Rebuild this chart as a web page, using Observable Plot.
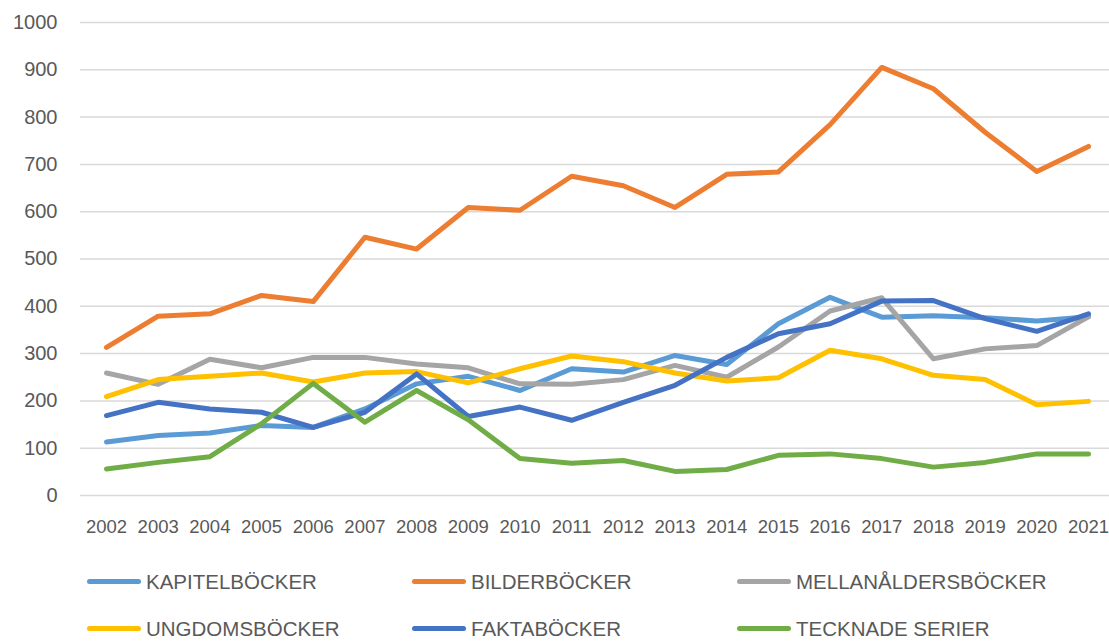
<!DOCTYPE html>
<html>
<head>
<meta charset="utf-8">
<script src="https://cdn.jsdelivr.net/npm/d3@7"></script>
<script src="https://cdn.jsdelivr.net/npm/@observablehq/plot@0.6"></script>
<style>
  html, body { margin: 0; padding: 0; background: #fff; }
  body { width: 1109px; height: 641px; overflow: hidden; font-family: "Liberation Sans", Arial, sans-serif; }
  #chart svg { display: block; }
  #legend { display: grid; grid-template-columns: 325px 325px 325px; row-gap: 0; margin-left: 87px; margin-top: 13px; }
  .item { display: flex; align-items: center; height: 47px; font-size: 20.5px; color: #595959; }
  .sw { width: 54px; height: 5px; border-radius: 3px; margin-right: 5px; }
</style>
</head>
<body>
<div id="chart"></div>
<div id="legend"></div>
<script>
const years = ["2002","2003","2004","2005","2006","2007","2008","2009","2010","2011","2012","2013","2014","2015","2016","2017","2018","2019","2020","2021"];
const seriesNames = ["KAPITELBÖCKER","BILDERBÖCKER","MELLANÅLDERSBÖCKER","UNGDOMSBÖCKER","FAKTABÖCKER","TECKNADE SERIER"];
const colors = ["#5B9BD5","#ED7D31","#A5A5A5","#FFC000","#4472C4","#70AD47"];
const kapitel   = [113,127,132,148,144,183,236,252,222,268,261,296,277,363,419,377,380,376,369,378];
const bilder    = [313,379,384,423,410,546,521,609,603,675,655,609,679,684,784,905,860,768,685,738];
const mellan    = [259,235,288,270,292,292,278,270,236,235,245,275,250,314,390,418,289,310,317,378];
const ungdom    = [209,245,252,259,240,259,262,238,268,295,283,259,242,249,307,289,254,245,192,199];
const fakta     = [169,197,183,176,144,176,257,167,187,159,197,233,292,342,363,411,412,374,347,384];
const tecknade  = [56,70,82,152,237,155,222,160,78,68,74,51,55,85,88,78,60,70,88,88];
const yTicks = [0,100,200,300,400,500,600,700,800,900,1000];

const allSeries = [kapitel, bilder, mellan, ungdom, fakta, tecknade];
const data = [];
allSeries.forEach((vals, i) => vals.forEach((v, j) => data.push({year: years[j], value: v, series: seriesNames[i]})));

const font = "'Liberation Sans', Arial, sans-serif";
const chart = Plot.plot({
  width: 1109,
  height: 545,
  marginTop: 22,
  marginBottom: 50,
  marginLeft: 80,
  marginRight: 0,
  style: {fontFamily: font, fontSize: "20px", color: "#595959", background: "#fff"},
  x: {type: "point", domain: years, range: [106, 1088], padding: 0, round: false, label: null},
  y: {domain: [0, 1000], ticks: yTicks, label: null},
  color: {domain: seriesNames, range: colors},
  marks: [
    Plot.ruleY(yTicks, {stroke: "#d9d9d9", strokeWidth: 1.5}),
    Plot.axisY({ticks: yTicks, tickFormat: d => String(d), tickSize: 0, tickPadding: 23, label: null, fill: "#595959", fontSize: 20}),
    Plot.axisX({tickSize: 0, tickPadding: 24, label: null, fill: "#595959", fontSize: 18.5}),
    Plot.line(data, {x: "year", y: "value", z: "series", stroke: "series", strokeWidth: 5, strokeLinejoin: "round", strokeLinecap: "round"})
  ]
});
document.getElementById("chart").appendChild(chart);

const legend = document.getElementById("legend");
seriesNames.forEach((name, i) => {
  const it = document.createElement("div");
  it.className = "item";
  const sw = document.createElement("span");
  sw.className = "sw";
  sw.style.background = colors[i];
  const t = document.createElement("span");
  t.textContent = name;
  it.appendChild(sw); it.appendChild(t);
  legend.appendChild(it);
});
</script>
</body>
</html>
